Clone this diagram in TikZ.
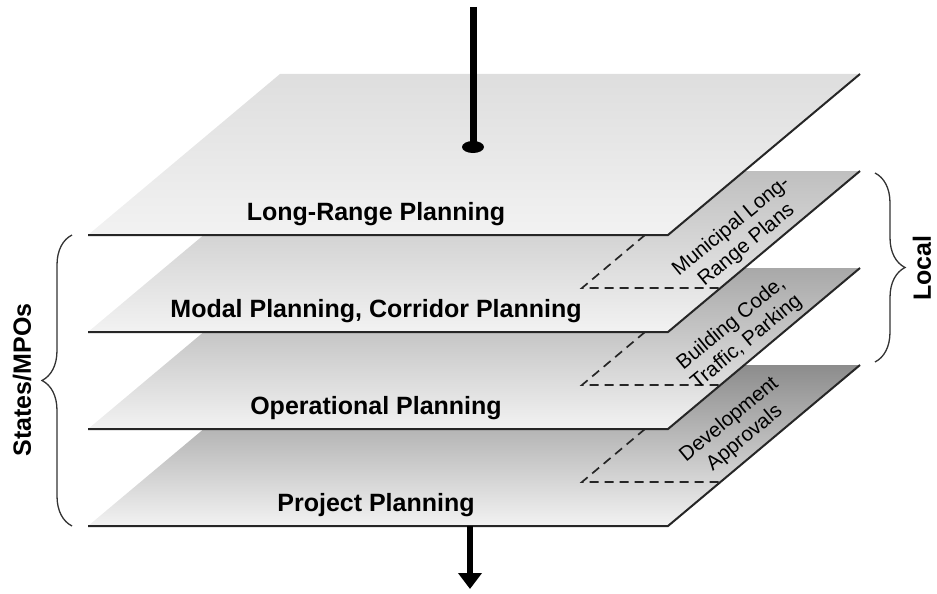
\documentclass[tikz,border=0pt]{standalone}
\usepackage{fontspec}
\setmainfont{Liberation Sans}
\usetikzlibrary{positioning, calc, arrows.meta, decorations.pathreplacing}

\begin{document}
\begin{tikzpicture}[
     x=1pt, y=-1pt,
  plane/.style = {shading=axis, top color=#1, bottom color=black!5},
   edge/.style = {line width=2pt, black!85},
 hidden/.style = {line width=1.7pt, black!85, dash pattern=on 9pt off 6pt},
  title/.style = {font=\fontsize{25}{29}\selectfont\bfseries, inner sep=0pt},
  local/.style = {font=\fontsize{20.5}{24}\selectfont, align=center, rotate=39.5, inner sep=0pt},
    brc/.style = {decorate, decoration={brace, amplitude=30pt, raise=0pt},
                  line width=1.3pt, black!80}
                    ]
\useasboundingbox (0,0) rectangle (937,594);

% the four layers, lowest first
\foreach \k/\c in {3/black!45, 2/black!34, 1/black!25, 0/black!13}{
  \pgfmathsetmacro\yb{235+97*\k}
  \coordinate (bl\k) at (88,\yb);
  \coordinate (br\k) at (668,\yb);
  \coordinate (tr\k) at (860,\yb-161);
  \coordinate (tl\k) at (280,\yb-161);
  \shade[plane=\c] (bl\k) -- (br\k) -- (tr\k) -- (tl\k) -- cycle;
  \draw[edge] (bl\k) -- (br\k) -- (tr\k);
  % local part of the layer
  \ifnum\k>0
    \coordinate (dt\k) at (645,\yb-97);
    \coordinate (db\k) at (582,\yb-44);
    \coordinate (de\k) at ($(br\k)!44/161!(tr\k)$);
    \draw[hidden] (dt\k) -- (db\k) -- (de\k);
  \fi
}

\node (lrp) [title] at (376,214) {Long-Range Planning};
\node (mod) [title] at (376,311) {Modal Planning, Corridor Planning};
\node (ops) [title] at (376,408) {Operational Planning};
\node (prj) [title] at (376,505) {Project Planning};

\node (mun) [local] at (739,236) {Municipal Long-\\Range Plans};
\node (bld) [local] at (739,333) {Building Code,\\Traffic, Parking};
\node (dev) [local] at (737,429) {Development\\Approvals};

% in and out
\coordinate (intop) at (473,7);
\coordinate (inend) at (473,147);
\draw[line width=7pt] (intop) -- (inend);
\fill (inend) ellipse (11 and 6);
\coordinate (outst) at (470,526);
\coordinate (outend) at (470,589);
\draw[line width=5.5pt, -{Triangle[width=23pt, length=16pt]}] (outst) -- (outend);

% braces
\coordinate (stb) at (72,526);
\coordinate (stt) at (72,235);
\draw[brc] (stb) -- (stt);
\node (smpo) [title, rotate=90] at (22,380) {States/MPOs};
\coordinate (lct) at (875,173);
\coordinate (lcb) at (875,362);
\draw[brc] (lct) -- (lcb);
\node (loc) [title, rotate=90] at (922,268) {Local};
\end{tikzpicture}
\end{document}
